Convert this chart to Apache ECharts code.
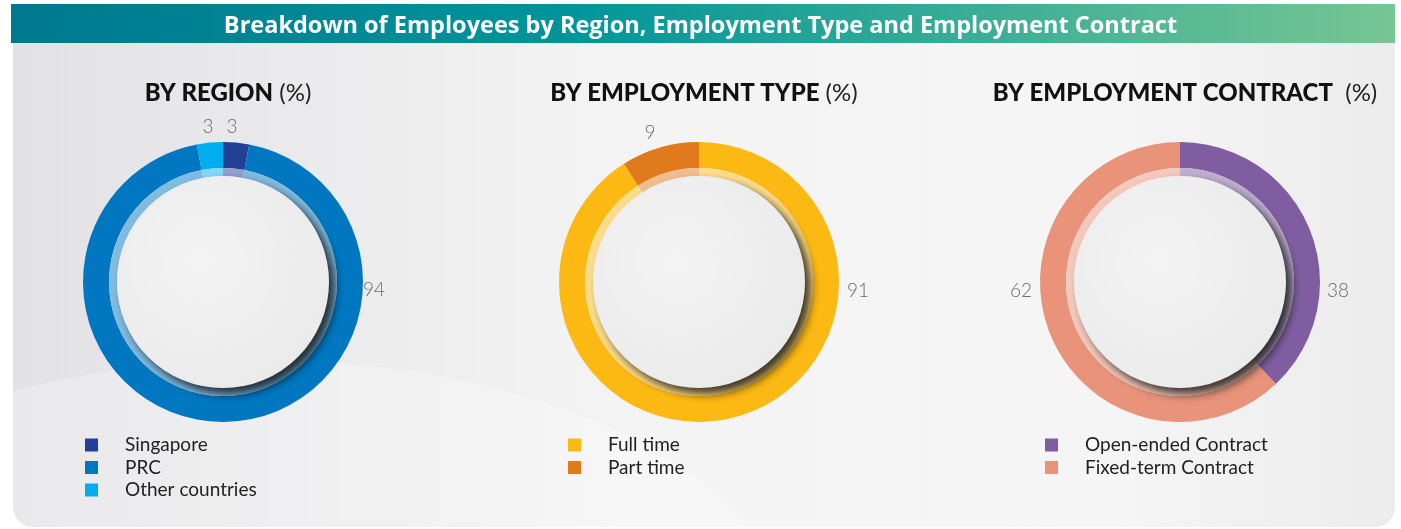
<!DOCTYPE html>
<html>
<head>
<meta charset="utf-8">
<title>Breakdown of Employees</title>
<script src="https://cdn.jsdelivr.net/npm/echarts@6/dist/echarts.min.js"></script>
<style>
  html, body { margin: 0; padding: 0; background: #ffffff; }
  #chart { width: 1401px; height: 529px; }
</style>
</head>
<body>
<div id="chart"></div>
<script>
// data
const regionNames = ['Singapore', 'PRC', 'Other countries'];
const regionValues = [3, 94, 3];
const typeNames = ['Full time', 'Part time'];
const typeValues = [91, 9];
const contractNames = ['Open-ended Contract', 'Fixed-term Contract'];
const contractValues = [38, 62];

const regionColors = ['#233f96', '#0077c0', '#00aeef'];
const typeColors = ['#fdb913', '#e07a1c'];
const contractColors = ['#7f5da0', '#e8937a'];

// layout
const centers = [[223, 282], [699, 282], [1180, 282]];
const ringR = [114, 140];
const bandR = [106, 114];
// label offsets from the donut centre, one per slice
const labelOffsets = [
  [[9, -155], [151, 8], [-15, -155]],
  [[159, 9], [-49, -149]],
  [[158, 9], [-159, 9]]
];

function lighten(hex, t) {
  const n = parseInt(hex.slice(1), 16);
  const r = (n >> 16) & 255, g = (n >> 8) & 255, b = n & 255;
  const m = c => Math.round(c + (255 - c) * t);
  return 'rgb(' + m(r) + ',' + m(g) + ',' + m(b) + ')';
}

function toData(names, values, colors, t) {
  return names.map((name, i) => ({
    name: name,
    value: values[i],
    itemStyle: { color: t ? lighten(colors[i], t) : colors[i] }
  }));
}

const groups = [
  [regionNames, regionValues, regionColors],
  [typeNames, typeValues, typeColors],
  [contractNames, contractValues, contractColors]
];

const series = [];
groups.forEach((g, k) => {
  const c = centers[k];
  // main ring
  series.push({
    type: 'pie',
    center: c,
    radius: ringR,
    silent: true,
    z: 2,
    data: toData(g[0], g[1], g[2]),
    label: {
      show: true,
      position: 'outside',
      formatter: '{c}',
      color: '#6b6b6b',
      fontFamily: 'Lato',
      fontWeight: 300,
      fontSize: 19
    },
    labelLine: { show: false },
    labelLayout: function (p) {
      const off = labelOffsets[k][p.dataIndex];
      return { x: c[0] + off[0], y: c[1] + off[1], align: 'center', verticalAlign: 'middle' };
    }
  });
  // lighter inner band
  series.push({
    type: 'pie',
    center: c,
    radius: bandR,
    silent: true,
    z: 2,
    data: toData(g[0], g[1], g[2], 0.5),
    label: { show: false },
    labelLine: { show: false }
  });
});

// inner discs with shadow towards bottom right
const discs = centers.map(c => ({
  type: 'circle',
  z: 10,
  shape: { cx: c[0], cy: c[1], r: bandR[0] },
  style: {
    fill: new echarts.graphic.RadialGradient(0.4, 0.4, 0.7, [
      { offset: 0, color: '#f3f3f3' },
      { offset: 1, color: '#eaeaeb' }
    ]),
    shadowColor: 'rgba(0,0,0,0.75)',
    shadowBlur: 10,
    shadowOffsetX: 6,
    shadowOffsetY: 6
  }
}));

const sectionTitles = [
  ['BY REGION', ' (%)'],
  ['BY EMPLOYMENT TYPE', ' (%)'],
  ['BY EMPLOYMENT CONTRACT', '  (%)']
];

const titles = [{
  text: 'Breakdown of Employees by Region, Employment Type and Employment Contract',
  left: 'center',
  top: 9,
  textStyle: { color: '#ffffff', fontFamily: 'Open Sans', fontWeight: 'bold', fontSize: 23.5 }
}];
sectionTitles.forEach((t, k) => {
  titles.push({
    text: '{b|' + t[0] + '}{n|' + t[1] + '}',
    left: centers[k][0],
    top: 76,
    textAlign: 'center',
    textStyle: {
      rich: {
        b: { fontFamily: 'Lato', fontWeight: 900, fontSize: 24, color: '#111111' },
        n: { fontFamily: 'Lato', fontWeight: 'normal', fontSize: 24, color: '#222222' }
      }
    }
  });
});

const legendLeft = [80, 563, 1040];
const legends = groups.map((g, k) => ({
  data: g[0],
  orient: 'vertical',
  left: legendLeft[k],
  top: 430,
  icon: 'rect',
  itemWidth: 13,
  itemHeight: 13,
  itemGap: 2.5,
  selectedMode: false,
  textStyle: { fontFamily: 'Lato', fontSize: 19, lineHeight: 20, color: '#222222', padding: [0, 0, 0, 22] }
}));

const chart = echarts.init(document.getElementById('chart'));
chart.setOption({
  animation: false,
  title: titles,
  legend: legends,
  graphic: [
    // grey panel
    {
      type: 'rect',
      z: -10,
      shape: { x: 13, y: 40, width: 1382, height: 487, r: [0, 0, 20, 20] },
      style: {
        fill: new echarts.graphic.LinearGradient(0, 0, 1, 0, [
          { offset: 0, color: '#e2e2e5' },
          { offset: 0.45, color: '#f4f4f4' },
          { offset: 0.8, color: '#f5f5f5' },
          { offset: 1, color: '#ececec' }
        ])
      }
    },
    // soft swoosh bottom left
    {
      type: 'ellipse',
      z: -9,
      shape: { cx: 260, cy: 620, rx: 520, ry: 260 },
      style: { fill: 'rgba(255,255,255,0.25)' }
    },
    // header bar
    {
      type: 'rect',
      z: -8,
      shape: { x: 11, y: 4, width: 1384, height: 39 },
      style: {
        fill: new echarts.graphic.LinearGradient(0, 0, 1, 0, [
          { offset: 0, color: '#00788f' },
          { offset: 0.4, color: '#00959a' },
          { offset: 1, color: '#76c693' }
        ])
      }
    }
  ].concat(discs),
  series: series
});
</script>
</body>
</html>
